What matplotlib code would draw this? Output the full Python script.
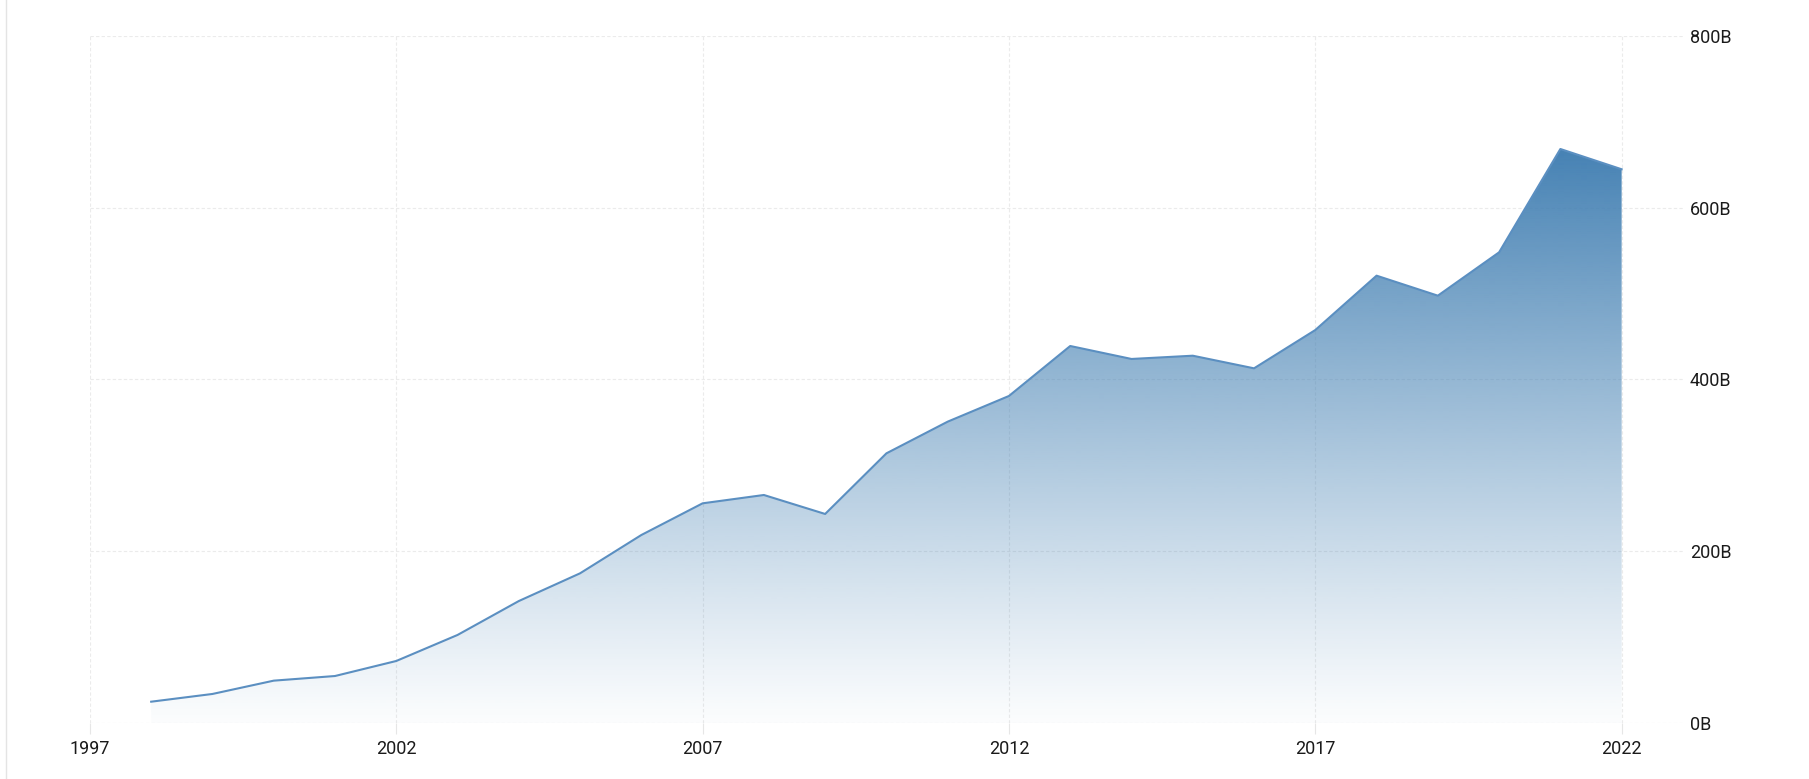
import numpy as np
import matplotlib
matplotlib.use('Agg')
import matplotlib.pyplot as plt
from matplotlib.patches import Polygon
from matplotlib.lines import Line2D

years = list(range(1998, 2023))
values = [24.8, 33.8, 49.3, 54.7, 72.2, 102.5, 142.0, 174.3, 218.9, 255.8,
          265.5, 243.4, 314.0, 350.9, 380.8, 439.0, 423.9, 427.7, 413.0, 457.6,
          520.9, 497.6, 548.1, 668.4, 644.8]
x_ticks = [1997, 2002, 2007, 2012, 2017, 2022]
y_ticks = [0, 200, 400, 600, 800]
y_labels = ['0B', '200B', '400B', '600B', '800B']

plt.rcParams['font.family'] = ['Roboto', 'DejaVu Sans']

fig = plt.figure(figsize=(18.09, 7.79), dpi=100)
ax = fig.add_axes([0.0497, 0.0719, 0.8806, 0.8819])

# gradient fill clipped to the area under the line
top = max(values)
grad = np.linspace(0, 1, 256).reshape(-1, 1)
rgba = np.zeros((256, 1, 4))
rgba[..., 0] = 70 / 255
rgba[..., 1] = 130 / 255
rgba[..., 2] = 180 / 255
rgba[..., 3] = 0.02 + 0.98 * grad ** 1.1
img = ax.imshow(rgba, extent=[years[0], years[-1], 0, top], origin='lower',
                aspect='auto', zorder=2, interpolation='bilinear')
verts = [(years[0], 0)] + list(zip(years, values)) + [(years[-1], 0)]
clip = Polygon(verts, closed=True, transform=ax.transData, facecolor='none', edgecolor='none')
ax.add_patch(clip)
img.set_clip_path(clip)
ax.set_xlim(1997, 2023)
ax.set_ylim(0, 800)

ax.plot(years, values, color='#5b8fc1', linewidth=1.5, zorder=3)

ax.set_xticks(x_ticks)
ax.set_xticklabels([str(y) for y in x_ticks])
ax.set_yticks(y_ticks)
ax.set_yticklabels(y_labels)
ax.yaxis.tick_right()

ax.grid(True, color='#ebebeb', linestyle=(0, (3, 2)), linewidth=0.8, zorder=0)
for s in ax.spines.values():
    s.set_visible(False)

ax.tick_params(axis='x', length=8, width=0.8, color='#e6e6e6', pad=4,
               labelsize=13, labelcolor='#1a1a1a')
ax.tick_params(axis='y', length=0, pad=5, labelsize=13, labelcolor='#1a1a1a')

fig.add_artist(Line2D([6 / 1809, 6 / 1809], [0, 1], transform=fig.transFigure,
                      color='#e4e4e4', linewidth=1))

fig.savefig('out.png', dpi=100)
